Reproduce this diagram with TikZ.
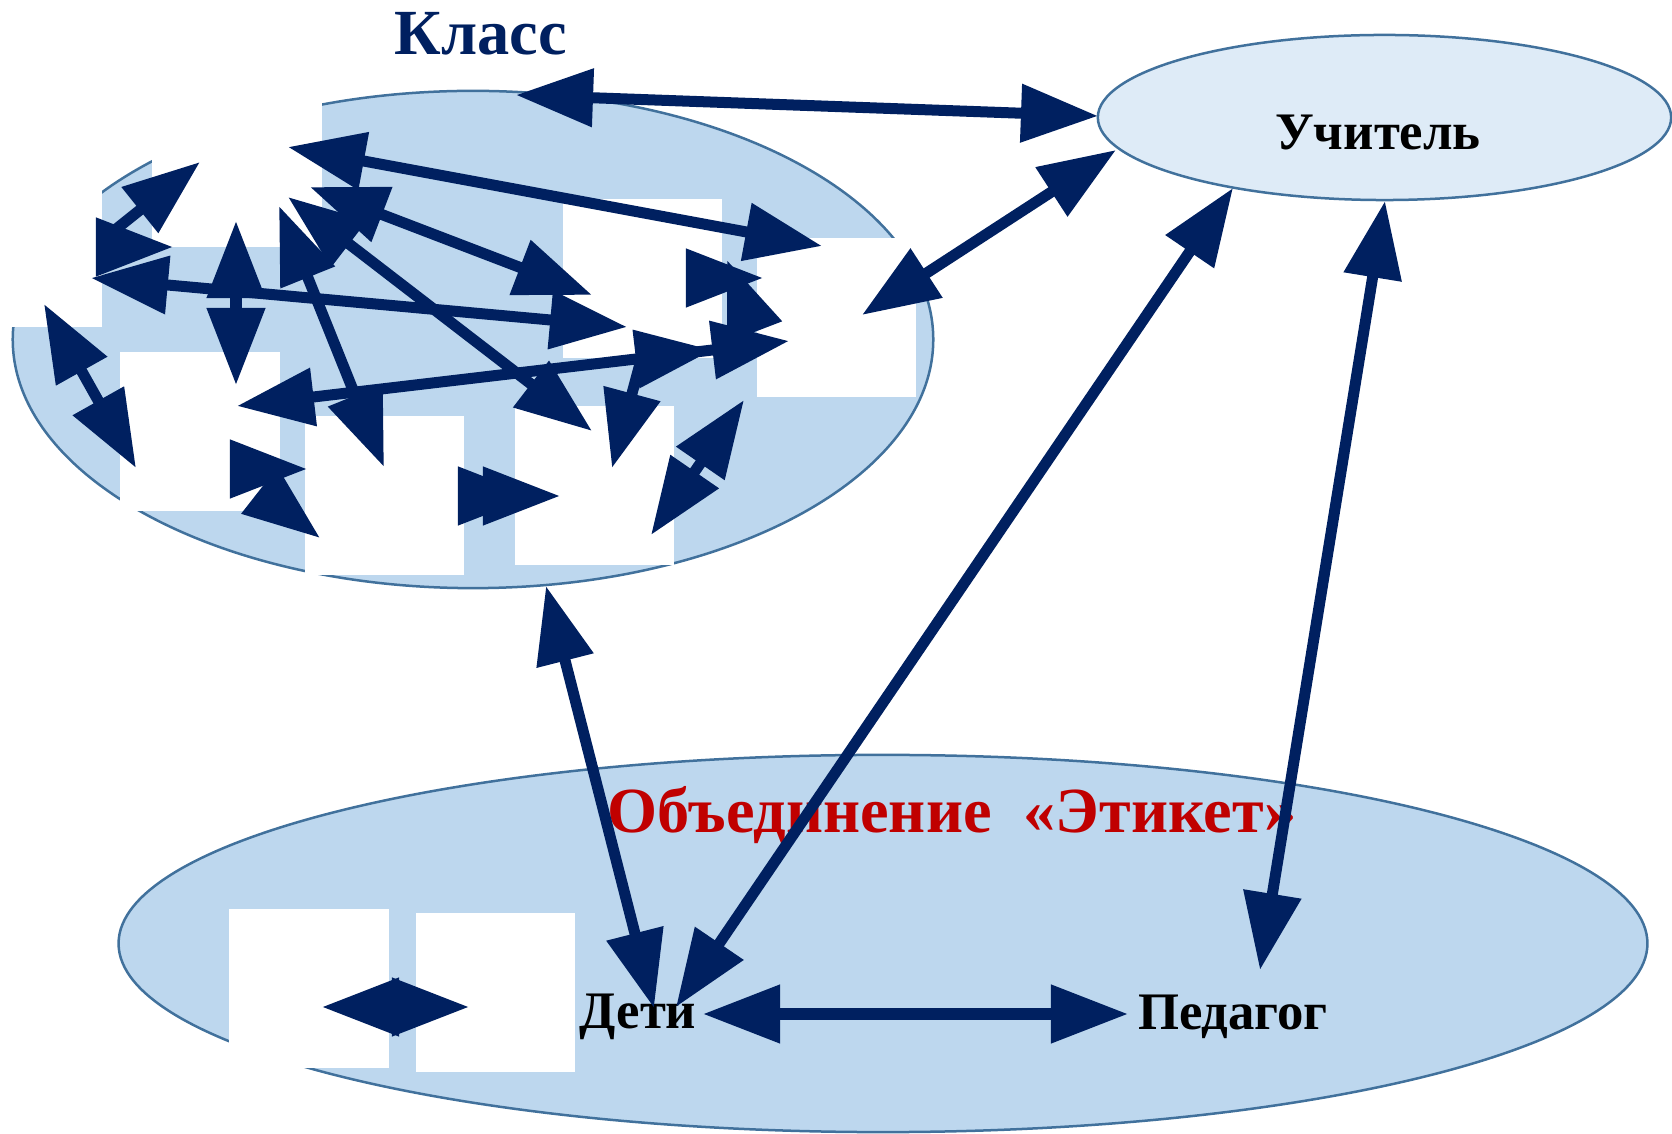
\documentclass[tikz,border=0pt]{standalone}
\usepackage{fontspec}
\setmainfont{Liberation Serif}
\usetikzlibrary{arrows.meta}
\usetikzlibrary{shapes.geometric}
\definecolor{navy}{HTML}{002060}
\definecolor{rim}{HTML}{41719C}
\definecolor{classfill}{HTML}{BDD7EE}
\definecolor{teachfill}{HTML}{DEEBF7}
\definecolor{clubred}{HTML}{C00000}
\tikzset{
  oval/.style={ellipse, draw=rim, line width=0.025cm, inner sep=0pt},
  photo/.style={fill=white, inner sep=0pt, minimum width=1.59cm, minimum height=1.59cm},
  hd/.tip={Triangle[length=0.77cm,width=0.56cm]},
  link/.style={draw=navy, line width=0.11cm, {hd}-{hd}},
  half/.style={draw=navy, line width=0.11cm, -{hd}},
  word/.style={anchor=base, font=\bfseries\fontsize{15}{18}\selectfont},
  bigword/.style={anchor=base, font=\bfseries\fontsize{18.3}{22}\selectfont}
}
\begin{document}
\begin{tikzpicture}[x=0.01cm,y=-0.01cm]
\useasboundingbox (0,0) rectangle (1672,1134);

\node[oval, fill=classfill, minimum width=9.20cm, minimum height=4.97cm] (klass) at (473,339.5) {};
\node[oval, fill=teachfill, minimum width=5.73cm, minimum height=1.65cm] (uchitel) at (1384.5,117.5) {};
\node[oval, fill=classfill, minimum width=15.28cm, minimum height=3.77cm] (obed) at (883,943.5) {};

\node[photo, minimum width=1.70cm] (fa) at (237,167.5) {};
\node[photo] (fb) at (22.5,247.5) {};
\node[photo] (fc) at (200,431.5) {};
\node[photo] (fd) at (384.5,495.5) {};
\node[photo] (fe) at (594.5,485.5) {};
\node[photo] (ff) at (836.5,317.5) {};
\node[photo] (fg) at (642.5,278.5) {};
\node[photo] (fh) at (309,988.5) {};
\node[photo] (fi) at (495.5,992.5) {};

\node[bigword, text=navy] (tklass) at (481,55) {Класс};
\node[word] (tuchitel) at (1378,150) {Учитель};
\node[bigword, text=clubred] (tobed) at (952,833) {Объединение \ «Этикет»};
\node[word] (deti) at (638,1028) {Дети};
\node[word] (pedagog) at (1233,1030) {Педагог};

\coordinate (a1) at (110,234);  \coordinate (a2) at (200,162);
\coordinate (b1) at (96,247);   \coordinate (b2) at (173,247);
\coordinate (c1) at (91,278);   \coordinate (c2) at (627,327);
\coordinate (d1) at (236,221);  \coordinate (d2) at (236,385);
\coordinate (e1) at (279,206);  \coordinate (e2) at (384,467);
\coordinate (g1) at (288,197);  \coordinate (g2) at (592,431);
\coordinate (h1) at (310,187);  \coordinate (h2) at (592,295);
\coordinate (k1) at (288,147);  \coordinate (k2) at (822,246);
\coordinate (m1) at (237,406);  \coordinate (m2) at (789,341);
\coordinate (n1) at (44,304);   \coordinate (n2) at (136,468);
\coordinate (q1) at (651,535);  \coordinate (q2) at (744,400);
\coordinate (r1) at (458,496);  \coordinate (r2) at (535,496);
\coordinate (r3) at (483,496);  \coordinate (r4) at (560,496);
\coordinate (s1) at (686,278);  \coordinate (s2) at (763,278);
\coordinate (t1) at (750,320);  \coordinate (t2) at (727,260);
\coordinate (u1) at (641,360);  \coordinate (u2) at (612,468);
\coordinate (v1) at (231,469);  \coordinate (v2) at (307,469);
\coordinate (w1) at (260,491);  \coordinate (w2) at (320,538);
\coordinate (x1) at (322,1007); \coordinate (x2) at (469,1007);

\coordinate (kl-u) at (516,95);    \coordinate (u-kl) at (1098,116);
\coordinate (kl-u2) at (862,315);  \coordinate (u-kl2) at (1116,150);
\coordinate (kl-d) at (546,586);   \coordinate (d-kl) at (654,1008);
\coordinate (u-d) at (1233,188);   \coordinate (d-u) at (676,1007);
\coordinate (u-p) at (1385,201);   \coordinate (p-u) at (1260,970);
\coordinate (d-p) at (703,1014);   \coordinate (p-d) at (1128,1014);

\draw[half] (a1) -- (a2);
\draw[half] (b1) -- (b2);
\draw[link] (c1) -- (c2);
\draw[link] (d1) -- (d2);
\draw[link] (e1) -- (e2);
\draw[link] (g1) -- (g2);
\draw[link] (h1) -- (h2);
\draw[link] (k1) -- (k2);
\draw[draw=navy, line width=0.11cm, {hd}-{hd[sep=0pt]hd}] (m1) -- (m2);
\draw[link] (n1) -- (n2);
\draw[link] (q1) -- (q2);
\draw[half] (r1) -- (r2);
\draw[half] (r3) -- (r4);
\draw[half] (t1) -- (t2);
\draw[half] (s1) -- (s2);
\draw[half] (u1) -- (u2);
\draw[half] (v1) -- (v2);
\draw[half] (w1) -- (w2);
\draw[link] (x1) -- (x2);

\draw[link] (kl-u) -- (u-kl);
\draw[link] (kl-u2) -- (u-kl2);
\draw[link] (kl-d) -- (d-kl);
\draw[link] (u-d) -- (d-u);
\draw[link] (u-p) -- (p-u);
\draw[link] (d-p) -- (p-d);
\end{tikzpicture}
\end{document}
